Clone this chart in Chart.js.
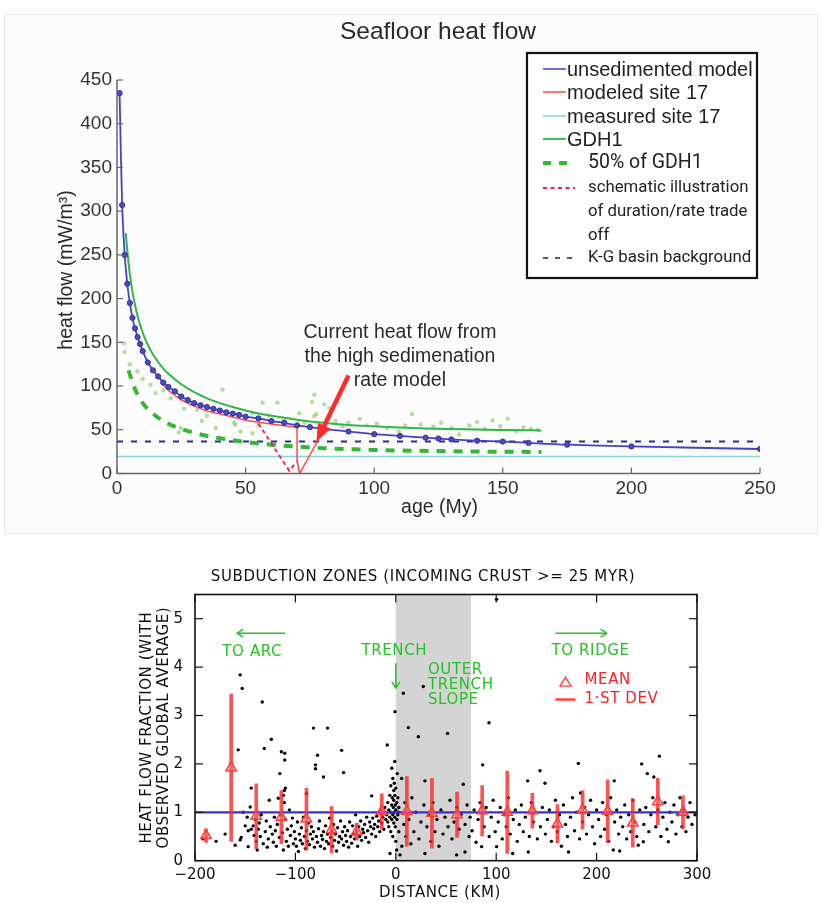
<!DOCTYPE html>
<html>
<head>
<meta charset="utf-8">
<title>Seafloor heat flow</title>
<script src="https://cdn.jsdelivr.net/npm/chart.js@4.4.1/dist/chart.umd.min.js"></script>
<style>
  html, body { margin: 0; padding: 0; background: #fff; }
  body { width: 823px; height: 903px; position: relative; overflow: hidden; }
  #topFrame { position: absolute; left: 4px; top: 14px; width: 812px; height: 518px; background: #fcfcfc; border: 1px solid #e8e8e8; }
  #heatChart { position: absolute; left: 0; top: 0; }
  #subChart { position: absolute; left: 0; top: 540px; }
</style>
</head>
<body>
<div id="topFrame"></div>
<canvas id="heatChart" width="823" height="540"></canvas>
<canvas id="subChart" width="823" height="363"></canvas>
<script>
// ---------- seafloor heat flow (mW/m^2) against plate age (My) ----------
const ageTicks = [0, 50, 100, 150, 200, 250];
const heatTicks = [0, 50, 100, 150, 200, 250, 300, 350, 400, 450];

const unsedAge  = [1, 2, 3, 4, 5, 6, 7, 8, 9, 10, 12, 14, 16, 18, 20, 22.5, 25, 27.5, 30, 32.5, 35, 37.5, 40, 42.5, 45, 47.5, 50, 55, 60, 65, 70, 75, 80, 90, 100, 110, 120, 125, 130, 140, 150, 160, 175, 200, 250];
const unsedFlow = [435, 307, 250, 217, 195, 178, 166, 156, 148, 140, 127, 118, 111, 104, 99, 94, 88, 84, 80.5, 78, 76, 74, 72, 70, 68.5, 67, 65, 63, 60, 58, 55, 53, 51, 48, 45, 43, 41, 40, 39, 37.5, 36.5, 35, 33, 31, 28];

const site17Age  = [17, 20, 25, 30, 35, 40, 45, 50, 55, 60, 65, 70, 70, 71, 78.5];
const site17Flow = [104, 95, 84, 77, 71.5, 68, 64.5, 61, 58.5, 56.5, 54.5, 53, 15, 0, 40];

const measuredSite17 = 19.5;
const kgBackground = 36.5;

const gdh1Age  = [3.4, 4, 5, 6, 7, 8, 10, 12, 14, 16, 18, 20, 25, 30, 35, 40, 45, 50, 55, 60, 70, 80, 90, 100, 110, 120, 130, 140, 150, 165];
const gdh1Flow = [275, 255, 228, 208, 193, 180, 161, 147, 136, 127.5, 120, 114, 102, 93, 86, 80.5, 76, 72, 68.5, 66, 61.5, 58, 55.5, 54, 52.5, 51.5, 50.8, 50.2, 49.8, 49.3];

const halfAge  = [4.5, 6, 8, 10, 12, 15, 20, 25, 30, 35, 40, 50, 60, 70, 80, 100, 120, 140, 165];
const halfFlow = [118, 104, 90, 80.5, 73.5, 66, 57, 51, 46.5, 43, 40.3, 36, 33, 30.8, 29, 27, 25.8, 25.1, 24.6];

const schematicAge  = [55, 67, 70];
const schematicFlow = [57, 3, 14];

const obsAge  = [2.7, 3, 5, 7.9, 10, 13, 15, 18, 20.9, 24, 24.8, 26, 28.7, 31.2, 33, 35, 38.4, 41, 43, 45.5, 46, 48, 52.7, 52.7, 55, 56.6, 59, 62.4, 65, 70.9, 73, 75.8, 76.7, 76.7, 77.5, 80.6, 82.5, 85, 87.6, 90, 94.4, 97, 101, 105, 109.6, 112, 114.7, 118, 123, 126, 130, 133, 137, 140, 143, 146, 149, 151.9, 155.3, 158, 161, 163.7];
const obsFlow = [149, 139, 125, 117, 108, 101.6, 92, 95, 86, 47, 52, 74, 79, 73, 60, 66, 52, 96, 70, 58, 56, 48, 46, 69, 55, 81, 66, 81, 60, 69, 58, 82, 90, 65.4, 68, 79, 75, 60, 53.6, 58, 62.5, 55, 57, 52, 48, 55, 68, 56, 53.6, 58, 52, 44.6, 55, 59, 51, 60.7, 54, 62.5, 48, 53, 51, 50];

const legendLabels = ['unsedimented model', 'modeled site 17', 'measured site 17', 'GDH1', '50% of GDH1',
  'schematic illustration\nof duration/rate trade\noff', 'K-G basin background'];
const noteLines = ['Current heat flow from', 'the high sedimenation', 'rate model'];

// ---------- subduction zones: heat flow fraction against distance (km) ----------
const distTicks = [-200, -100, 0, 100, 200, 300];
const fracTicks = [0, 1, 2, 3, 4, 5];
const slopeBand = [0, 75];
const globalAverage = 1;

const binDist = [-189, -164, -139, -114, -89, -64, -39, -14, 11, 36, 61, 86, 111, 136, 161, 186, 211, 236, 261, 286];
const binMean = [0.52, 1.92, 0.92, 0.9, 0.86, 0.64, 0.6, 1.02, 1.02, 0.98, 0.95, 1.03, 1.0, 1.03, 0.76, 1.05, 1.02, 0.78, 1.22, 1.0];
const binSd   = [0.14, 1.52, 0.67, 0.55, 0.64, 0.48, 0.17, 0.36, 0.72, 0.72, 0.47, 0.52, 0.85, 0.36, 0.4, 0.4, 0.65, 0.5, 0.48, 0.34];

const siteFlow = [
  [-192,0.45],[-179,0.40],[-170,0.55],[-160,0.32],[-157,2.29],[-155,3.84],[-153,3.56],[-155,0.43],[-154,0.48],[-150,0.72],
  [-147,0.62],[-147,0.29],[-145,1.11],[-144,1.50],[-144,0.65],[-142,0.72],[-148,0.9],[-152,1.0],
  [-141,0.52],[-140,0.85],[-139,0.40],[-138,0.22],[-137,0.65],[-136,0.78],[-135,0.5],[-134,0.95],[-133,3.28],[-132,0.35],
  [-131,2.32],[-130,0.6],[-129,0.82],[-128,0.28],[-127,0.45],[-126,1.25],[-125,0.7],[-124,2.51],[-123,0.55],[-122,0.38],
  [-121,0.9],[-120,0.62],[-119,0.3],[-118,0.75],[-117,1.29],[-116,0.48],[-115.5,1.80],[-115,0.95],[-114,2.25],[-113,0.58],
  [-112,1.35],[-112,0.22],[-111,1.45],[-111,1.2],[-110.6,2.22],[-110.6,2.08],[-110,1.5],[-110,0.85],[-109,0.4],[-108,0.65],
  [-107,0.3],[-106,1.05],[-105,0.52],[-104,0.72],[-103,0.88],[-102,0.35],[-101,0.6],[-100,0.45],
  [-99,0.3],[-98,0.8],[-97,0.19],[-96,0.55],[-95,0.42],[-94,0.68],[-93,0.35],[-92,0.9],[-91,0.5],[-90,0.25],
  [-89,1.39],[-89,0.62],[-88,0.4],[-87,0.78],[-86,0.33],[-85,0.55],[-84,0.7],[-83,0.45],[-82,2.74],[-82,0.6],
  [-81,0.28],[-80,1.98],[-80,1.9],[-79,0.5],[-78,2.18],[-78,0.38],[-77,0.66],[-76,0.82],[-75,0.3],[-74,0.52],
  [-73,0.44],[-72,1.73],[-72,0.6],[-71,0.25],[-70,0.72],[-69,0.4],[-68,2.74],[-68,0.55],[-67,0.35],[-66,0.88],
  [-65,0.48],[-64,0.62],[-63,0.3],[-62,0.75],[-61,0.42],[-60,0.55],[-59,0.2],[-58,0.68],[-57,0.38],[-56,0.5],
  [-55,0.82],[-54,2.28],[-54,0.45],[-53,0.6],[-52,1.82],[-52,0.32],[-51,0.7],[-50,0.52],
  [-49,0.4],[-48,0.62],[-47,0.28],[-46,0.8],[-45,0.5],[-44,0.36],[-43,0.72],[-42,0.55],[-41,0.45],[-40,0.95],
  [-39,0.6],[-38,0.3],[-37,0.7],[-36,0.5],[-35,0.82],[-34,0.42],[-33,0.65],[-32,0.58],[-31,0.75],[-30,0.48],
  [-29,0.9],[-28,0.62],[-27,0.38],[-26,0.8],[-25,0.7],[-24,1.34],[-24,0.55],[-23,0.88],[-22,0.66],[-21,0.75],
  [-20,0.5],[-19,0.92],[-18,0.7],[-17,0.82],[-16,0.6],[-15,1.05],[-14,0.78],[-13,0.9],[-12,0.65],[-11,1.1],[-10,0.85],
  [-9,0.95],[-8.5,2.39],[-8,0.8],[-8,1.2],[-7,0.7],[-7,1.05],[-6,0.9],[-6,1.35],[-5.8,0.15],[-5,1.0],
  [-5,0.6],[-5,1.55],[-4,1.91],[-4,0.85],[-4,1.15],[-3.5,1.3],[-3,0.95],[-3,1.7],[-3,0.5],[-2.5,1.1],
  [-2,1.45],[-2,0.78],[-2,1.25],[-1.5,1.0],[-1.5,1.6],[-1,0.9],[-1,1.35],[-1,2.05],[-0.8,3.08],[-0.5,1.15],
  [-0.5,0.7],[0,1.05],[0,1.5],[0,0.4],[0.8,0.22],[1,1.2],[1,0.85],[1.5,1.8],[2,0.95],[2,1.3],
  [2.5,1.0],[3,0.6],[3,1.1],[4.2,0.12],[5.8,1.7],[6,0.3],[7.5,3.46],[8,0.75],[9,1.2],[10,0.5],
  [12.5,2.75],[13,0.85],[15,0.35],[16,1.3],[18,0.6],[20,1.0],[22.4,2.56],[23,0.45],[25,0.8],[27.4,3.6],
  [28,1.15],[29,1.65],[29,0.15],[31,0.7],[33,0.95],[35,0.4],[37,1.2],[39,0.6],[41,0.85],[43,0.3],
  [45,1.05],[47,0.55],[49,0.9],[51.6,2.63],[52,0.7],[54,1.25],[56,0.45],[58,0.8],[60.6,0.12],[61,1.1],
  [63,0.65],[65,0.95],[67.2,1.58],[68.9,0.18],[69,0.75],[71,1.15],[73,0.5],[74,0.9],
  [76,0.62],[78,1.05],[80,0.38],[82,0.85],[84,1.2],[85.5,0.29],[86.5,1.98],[88,0.7],[90,1.1],[92.8,2.85],
  [93,0.5],[95,0.9],[97,1.25],[99,0.6],[100.4,5.4],[100.4,0.29],[102,0.8],[104,1.1],[106,0.45],[108,0.95],
  [110,0.7],[112,1.3],[114,0.55],[116.4,0.15],[117,0.85],[119,1.05],[121,0.4],[123,0.75],[125,1.15],[127,0.6],
  [129,0.9],[131.3,1.65],[132,0.18],[133,0.5],[135,1.2],[137,0.8],[139,1.0],[141,0.45],[143.6,1.86],[144,0.7],
  [146,1.1],[148.6,1.6],[149,0.55],
  [151,0.85],[153,1.05],[155,0.4],[157,0.7],[159,1.25],[161,0.6],[163,0.95],[165,0.3],[167,1.15],[169,0.75],
  [171,0.5],[172,0.18],[174,0.9],[176,1.3],[178,0.62],[180,1.0],[181.8,2.01],[183,0.45],[184,1.4],[186,0.8],
  [188,1.1],[190,0.55],[192,0.95],[194,1.25],[196,0.7],[198,0.35],[200,1.05],[202,0.85],[204,0.5],[206,1.2],
  [208,0.65],[210,0.95],[212,0.4],[214,1.3],[216.6,0.22],[217.6,1.65],[218,0.8],[220,1.05],[222,0.55],[223,0.2],[224,0.9],
  [226,0.7],[228,1.15],[230,0.45],[232,0.95],[234,0.6],[236,1.25],[238,0.8],[240,0.5],[241.5,0.32],[243,1.05],
  [244.9,2.0],[246.5,0.39],[247,0.75],[249,1.1],[250.5,1.8],[252,0.6],[254,0.95],[256,1.3],[257,1.73],[259,0.7],
  [261,1.05],[262.5,2.16],[264,0.5],[266,0.9],[268,1.2],[270,0.65],[271.4,0.39],[273,1.0],[275,0.8],[277,1.15],
  [279,0.55],[281,0.95],[283,1.3],[285,0.7],[287,1.05],[289,0.6],[291,0.9],[293,1.2],[295,0.75],[298,0.95]
];

const SANS = '"Liberation Sans", Arial, sans-serif';
const NARROW = 'Roboto, "Liberation Sans", sans-serif';
const HERSHEY = '"DejaVu Sans", sans-serif';

const BLUE = '#4343c2';
const RED = '#ff4a4a';
const CYAN = '#86d6d6';
const GREEN = '#2fb54a';
const DASHGREEN = '#33b833';
const PINK = '#ee2255';
const KG = '#2b2b90';

const pts = (xs, ys) => xs.map((v, i) => ({ x: v, y: ys[i] }));
const flat = (v, a, b) => [{ x: a, y: v }, { x: b, y: v }];

function line(ctx, x1, y1, x2, y2) {
  ctx.beginPath(); ctx.moveTo(x1, y1); ctx.lineTo(x2, y2); ctx.stroke();
}

// extras for the heat flow panel: inward ticks, titles, note, arrow, legend box
const heatDecor = {
  id: 'heatDecor',
  afterDraw(chart) {
    const { ctx, chartArea: a, scales: { x, y } } = chart;
    ctx.save();
    ctx.strokeStyle = '#666'; ctx.lineWidth = 1.5;
    line(ctx, a.left, a.top, a.left, a.bottom);
    line(ctx, a.left, a.bottom, a.right, a.bottom);
    ctx.lineWidth = 1.2;
    ageTicks.forEach(v => { const px = x.getPixelForValue(v); line(ctx, px, a.bottom, px, a.bottom - 6); });
    heatTicks.forEach(v => { const py = y.getPixelForValue(v); line(ctx, a.left, py, a.left + 6, py); });

    ctx.fillStyle = '#2a2a2a';
    ctx.textAlign = 'center'; ctx.textBaseline = 'middle';
    ctx.font = '24.5px ' + SANS;
    ctx.fillText('Seafloor heat flow', 438, 32);
    ctx.font = '19.5px ' + SANS;
    ctx.fillText('age (My)', (a.left + a.right) / 2 + 1, 508);
    ctx.save();
    ctx.translate(67, 270); ctx.rotate(-Math.PI / 2);
    ctx.fillText('heat flow (mW/m\u00b3)', 0, 0);
    ctx.restore();

    // note about the high sedimentation rate model
    ctx.font = '19.5px ' + SANS;
    const noteX = x.getPixelForValue(110);
    [161, 133.5, 106].forEach((v, i) => ctx.fillText(noteLines[i], noteX, y.getPixelForValue(v)));

    // red arrow down to the current heat flow
    const ax1 = x.getPixelForValue(90), ay1 = y.getPixelForValue(112);
    const ax2 = x.getPixelForValue(77.5), ay2 = y.getPixelForValue(36);
    const ang = Math.atan2(ay2 - ay1, ax2 - ax1);
    ctx.strokeStyle = '#ff2a2a'; ctx.fillStyle = '#ff2a2a'; ctx.lineWidth = 4.5; ctx.lineCap = 'butt';
    line(ctx, ax1, ay1, ax2 - 14 * Math.cos(ang), ay2 - 14 * Math.sin(ang));
    ctx.beginPath();
    ctx.moveTo(ax2, ay2);
    ctx.lineTo(ax2 - 18 * Math.cos(ang) + 7 * Math.sin(ang), ay2 - 18 * Math.sin(ang) - 7 * Math.cos(ang));
    ctx.lineTo(ax2 - 18 * Math.cos(ang) - 7 * Math.sin(ang), ay2 - 18 * Math.sin(ang) + 7 * Math.cos(ang));
    ctx.closePath(); ctx.fill();

    // legend box
    ctx.fillStyle = '#fff';
    ctx.fillRect(527, 53, 230, 225);
    ctx.strokeStyle = '#111'; ctx.lineWidth = 2.2;
    ctx.strokeRect(527, 53, 230, 225);
    const samples = [
      { y: 69, c: BLUE, w: 1.5, d: [], x2: 566 },
      { y: 92, c: RED, w: 1.5, d: [], x2: 566 },
      { y: 116, c: CYAN, w: 1.5, d: [], x2: 566 },
      { y: 139, c: GREEN, w: 1.8, d: [], x2: 566 },
      { y: 163, c: DASHGREEN, w: 4, d: [8, 8], x2: 573 },
      { y: 188, c: PINK, w: 2, d: [4, 3.5], x2: 575 },
      { y: 258, c: '#222', w: 1.6, d: [5, 7], x2: 575 }
    ];
    ctx.textAlign = 'left';
    samples.forEach((s, i) => {
      ctx.strokeStyle = s.c; ctx.lineWidth = s.w; ctx.setLineDash(s.d);
      line(ctx, 543, s.y, s.x2, s.y);
      ctx.setLineDash([]);
      ctx.fillStyle = '#222';
      if (i < 4) {
        ctx.font = '20px ' + SANS;
        ctx.fillText(legendLabels[i], 567, s.y + 1);
      } else {
        ctx.font = (i === 4 ? '19.5px ' : '16.8px ') + NARROW;
        legendLabels[i].split('\n').forEach((t, k) => ctx.fillText(t, 588, s.y + k * 24));
      }
    });
    ctx.restore();
  }
};

new Chart(document.getElementById('heatChart'), {
  type: 'line',
  data: {
    datasets: [
      { data: pts(unsedAge, unsedFlow), borderColor: BLUE, borderWidth: 1.8, pointRadius: 2.6,
        pointBackgroundColor: '#4a4ac8', pointBorderColor: '#30309a', pointBorderWidth: 1, tension: 0.3 },
      { data: pts(site17Age, site17Flow), borderColor: RED, borderWidth: 1.5, pointRadius: 0, tension: 0 },
      { data: pts(schematicAge, schematicFlow), borderColor: PINK, borderWidth: 2, borderDash: [4, 3.5], pointRadius: 0 },
      { data: pts(gdh1Age, gdh1Flow), borderColor: GREEN, borderWidth: 2, pointRadius: 0, cubicInterpolationMode: 'monotone' },
      { data: pts(obsAge, obsFlow), showLine: false, pointRadius: 2.2, pointBorderWidth: 0,
        pointBackgroundColor: 'rgba(130, 200, 100, 0.6)' },
      { data: pts(halfAge, halfFlow), borderColor: DASHGREEN, borderWidth: 4, borderDash: [9, 8], pointRadius: 0, cubicInterpolationMode: 'monotone' },
      { data: flat(kgBackground, 0, 250), borderColor: KG, borderWidth: 2, borderDash: [6, 8], pointRadius: 0 },
      { data: flat(measuredSite17, 0, 250), borderColor: CYAN, borderWidth: 1.5, pointRadius: 0 }
    ]
  },
  options: {
    responsive: false,
    animation: false,
    events: [],
    layout: { padding: { top: 80, right: 63, left: 0, bottom: 0 } },
    plugins: { legend: { display: false }, tooltip: { enabled: false } },
    scales: {
      x: {
        type: 'linear', min: 0, max: 250,
        afterFit(s) { s.height = 66.5; },
        afterBuildTicks(s) { s.ticks = ageTicks.map(v => ({ value: v })); },
        grid: { display: false, drawTicks: false }, border: { display: false },
        ticks: { padding: 4, maxRotation: 0, color: '#333', font: { family: SANS, size: 19 } }
      },
      y: {
        type: 'linear', min: 0, max: 450,
        afterFit(s) { s.width = 117; },
        afterBuildTicks(s) { s.ticks = heatTicks.map(v => ({ value: v })); },
        grid: { display: false, drawTicks: false }, border: { display: false },
        ticks: { padding: 5, color: '#333', font: { family: SANS, size: 19 } }
      }
    }
  },
  plugins: [heatDecor]
});

// extras for the subduction panel: shaded outer slope, framed box, labels
const subDecor = {
  id: 'subDecor',
  beforeDatasetsDraw(chart) {
    const { ctx, chartArea: a, scales: { x } } = chart;
    const x0 = x.getPixelForValue(slopeBand[0]), x1 = x.getPixelForValue(slopeBand[1]);
    ctx.save();
    ctx.fillStyle = '#d4d4d4';
    ctx.fillRect(x0, a.top, x1 - x0, a.bottom - a.top);
    ctx.restore();
  },
  afterDraw(chart) {
    const { ctx, chartArea: a, scales: { x, y } } = chart;
    ctx.save();
    ctx.strokeStyle = '#111'; ctx.lineWidth = 1.6;
    ctx.strokeRect(a.left, a.top, a.right - a.left, a.bottom - a.top);
    ctx.lineWidth = 1.2;
    distTicks.forEach(v => {
      const px = x.getPixelForValue(v);
      line(ctx, px, a.bottom, px, a.bottom - 8);
      line(ctx, px, a.top, px, a.top + 8);
    });
    fracTicks.forEach(v => {
      const py = y.getPixelForValue(v);
      line(ctx, a.left, py, a.left + 8, py);
      line(ctx, a.right, py, a.right - 8, py);
    });

    ctx.fillStyle = '#111';
    ctx.textAlign = 'center'; ctx.textBaseline = 'middle';
    ctx.font = '15px ' + HERSHEY;
    ctx.letterSpacing = '0.6px';
    ctx.fillText('SUBDUCTION ZONES (INCOMING CRUST >= 25 MYR)', 423, 37);
    ctx.fillText('DISTANCE (KM)', 440, 353);
    ctx.save();
    ctx.translate(147, (a.top + a.bottom) / 2); ctx.rotate(-Math.PI / 2);
    ctx.fillText('HEAT FLOW FRACTION (WITH', 0, 0);
    ctx.fillText('OBSERVED GLOBAL AVERAGE)', 0, 17);
    ctx.restore();

    // green notes and direction arrows
    const px = v => x.getPixelForValue(v), py = v => y.getPixelForValue(v);
    ctx.fillStyle = '#22c322'; ctx.strokeStyle = '#22c322'; ctx.lineWidth = 1.5;
    ctx.font = '15px ' + HERSHEY;
    ctx.fillText('TO ARC', px(-143), py(4.31));
    ctx.fillText('TRENCH', px(-1.5), py(4.33));
    ctx.fillText('TO RIDGE', px(194), py(4.33));
    ctx.textAlign = 'left';
    ['OUTER', 'TRENCH', 'SLOPE'].forEach((t, i) => ctx.fillText(t, px(32), py(3.94 - i * 0.31)));
    const head = (x2, y2, dx, dy) => {
      ctx.beginPath();
      ctx.moveTo(x2 + dx * 6 - dy * 4, y2 + dy * 6 - dx * 4);
      ctx.lineTo(x2, y2);
      ctx.lineTo(x2 + dx * 6 + dy * 4, y2 + dy * 6 + dx * 4);
      ctx.stroke();
    };
    line(ctx, px(-110), py(4.7), px(-158), py(4.7)); head(px(-158), py(4.7), 1, 0);
    line(ctx, px(159), py(4.7), px(210), py(4.7)); head(px(210), py(4.7), -1, 0);
    line(ctx, px(0), py(4.08), px(0), py(3.57)); head(px(0), py(3.57), 0, -1);

    // red key for mean and standard deviation
    ctx.fillStyle = '#ff2020'; ctx.strokeStyle = '#ff4040';
    ctx.fillText('MEAN', px(188), py(3.73));
    ctx.fillText('1\u00b7ST DEV', px(188), py(3.33));
    ctx.lineWidth = 2.5;
    line(ctx, px(159), py(3.33), px(179), py(3.33));
    ctx.lineWidth = 1.3;
    const tx = px(169), ty = py(3.69);
    ctx.beginPath(); ctx.moveTo(tx, ty - 5); ctx.lineTo(tx + 5.5, ty + 4); ctx.lineTo(tx - 5.5, ty + 4); ctx.closePath(); ctx.stroke();
    ctx.restore();
  }
};

new Chart(document.getElementById('subChart'), {
  type: 'scatter',
  data: {
    datasets: [
      { type: 'scatter', data: pts(binDist, binMean), order: 0, pointStyle: 'triangle', pointRadius: 6,
        borderColor: '#ff3a3a', backgroundColor: 'rgba(255, 140, 140, 0.35)', borderWidth: 1.5 },
      { type: 'bar', data: binDist.map((d, i) => ({ x: d, y: [binMean[i] - binSd[i], binMean[i] + binSd[i]] })),
        order: 1, barThickness: 3, backgroundColor: 'rgba(255, 40, 40, 0.8)', borderWidth: 0 },
      { type: 'line', data: flat(globalAverage, -200, 300), order: 2, borderColor: '#3232d2', borderWidth: 2.2, pointRadius: 0 },
      { type: 'scatter', data: siteFlow.map(p => ({ x: p[0], y: p[1] })), order: 3, pointRadius: 1.7,
        backgroundColor: '#000', borderWidth: 0 }
    ]
  },
  options: {
    responsive: false,
    animation: false,
    events: [],
    layout: { padding: { top: 54.5, right: 126, left: 0, bottom: 0 } },
    plugins: { legend: { display: false }, tooltip: { enabled: false } },
    scales: {
      x: {
        type: 'linear', min: -200, max: 300, offset: false,
        afterFit(s) { s.height = 42.3; },
        afterBuildTicks(s) { s.ticks = distTicks.map(v => ({ value: v })); },
        grid: { display: false, drawTicks: false }, border: { display: false },
        ticks: { padding: 5, maxRotation: 0, color: '#111', font: { family: HERSHEY, size: 15 },
          callback: v => (v < 0 ? '\u2212' + Math.abs(v) : String(v)) }
      },
      y: {
        type: 'linear', min: 0, max: 5.5,
        afterFit(s) { s.width = 195; },
        afterBuildTicks(s) { s.ticks = fracTicks.map(v => ({ value: v })); },
        grid: { display: false, drawTicks: false }, border: { display: false },
        ticks: { padding: 12, color: '#111', font: { family: HERSHEY, size: 15 } }
      }
    }
  },
  plugins: [subDecor]
});
</script>
</body>
</html>
